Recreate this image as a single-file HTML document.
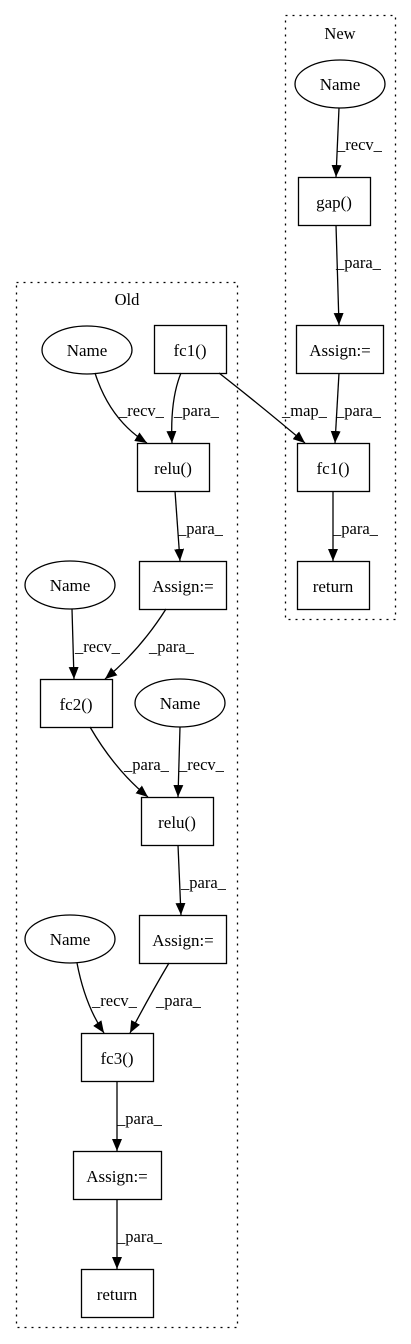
<!DOCTYPE html>
<html><head><meta charset="utf-8"><style>html,body{margin:0;padding:0;background:#fff}svg{display:block}</style></head>
<body>
<svg width="411" height="1344" viewBox="0 0 411 1344" xmlns="http://www.w3.org/2000/svg" font-family="Liberation Serif, serif" font-size="16">
<defs>
<marker id="a" markerWidth="12" markerHeight="10" refX="12" refY="5" orient="auto" markerUnits="userSpaceOnUse">
<path d="M0,0 L12,5 L0,10 Z" fill="#000"/>
</marker>
</defs>
<g fill="none" stroke="#000" stroke-width="1.3" stroke-dasharray="2,5">
<rect x="285.5" y="15.5" width="110" height="604"/>
<rect x="16.5" y="282.5" width="221" height="1045"/>
</g>
<g text-anchor="middle" font-size="16.5">
<text x="340" y="39">New</text>
<text x="127" y="305">Old</text>
</g>
<g fill="#fff" stroke="#000" stroke-width="1.3">
<ellipse cx="340" cy="84" rx="45" ry="24"/>
<rect x="298.5" y="177.5" width="72" height="48"/>
<rect x="296.5" y="325.5" width="87" height="48"/>
<rect x="297.5" y="443.5" width="72" height="48"/>
<rect x="297.5" y="561.5" width="72" height="48"/>
<ellipse cx="87" cy="350" rx="45" ry="24"/>
<rect x="154.5" y="325.5" width="72" height="48"/>
<rect x="137.5" y="443.5" width="72" height="48"/>
<rect x="139.5" y="561.5" width="87" height="48"/>
<ellipse cx="70" cy="585" rx="45" ry="24"/>
<rect x="40.5" y="679.5" width="72" height="48"/>
<ellipse cx="180" cy="703" rx="45" ry="24"/>
<rect x="141.5" y="797.5" width="72" height="48"/>
<rect x="139.5" y="915.5" width="87" height="48"/>
<ellipse cx="70" cy="939" rx="45" ry="24"/>
<rect x="81.5" y="1033.5" width="72" height="48"/>
<rect x="73.5" y="1151.5" width="88" height="48"/>
<rect x="81.5" y="1269.5" width="72" height="48"/>
</g>
<g text-anchor="middle" font-size="17">
<text x="340" y="90">Name</text>
<text x="334" y="208">gap()</text>
<text x="340" y="356">Assign:=</text>
<text x="333" y="474">fc1()</text>
<text x="333" y="592">return</text>
<text x="87" y="356">Name</text>
<text x="190" y="356">fc1()</text>
<text x="173" y="474">relu()</text>
<text x="183" y="592">Assign:=</text>
<text x="70" y="591">Name</text>
<text x="76" y="710">fc2()</text>
<text x="180" y="709">Name</text>
<text x="177" y="828">relu()</text>
<text x="183" y="946">Assign:=</text>
<text x="70" y="945">Name</text>
<text x="117" y="1064">fc3()</text>
<text x="117" y="1182">Assign:=</text>
<text x="117" y="1300">return</text>
</g>
<g fill="none" stroke="#000" stroke-width="1.3" marker-end="url(#a)">
<path d="M339,108 L336,177"/>
<path d="M336,225 L339,325"/>
<path d="M339,373 L335,443"/>
<path d="M219,373 Q260,405 305,443"/>
<path d="M333,491 L333,561"/>
<path d="M95,373 Q110,420 147,443"/>
<path d="M181,373 Q170,400 172,443"/>
<path d="M175,491 L180,561"/>
<path d="M72,609 L74,679"/>
<path d="M166,609 Q140,650 105,679"/>
<path d="M90,727 Q115,770 148,797"/>
<path d="M180,727 L178,797"/>
<path d="M178,845 L181,915"/>
<path d="M77,963 Q85,1005 104,1033"/>
<path d="M169,963 Q150,995 130,1033"/>
<path d="M117,1081 L117,1151"/>
<path d="M117,1199 L117,1269"/>
</g>
<g font-size="16.5">
<text x="337" y="150">_recv_</text>
<text x="336" y="268">_para_</text>
<text x="336" y="416">_para_</text>
<text x="282" y="416">_map_</text>
<text x="333" y="534">_para_</text>
<text x="119" y="416">_recv_</text>
<text x="174" y="416">_para_</text>
<text x="178" y="534">_para_</text>
<text x="75" y="652">_recv_</text>
<text x="149" y="652">_para_</text>
<text x="124" y="770">_para_</text>
<text x="179" y="770">_recv_</text>
<text x="181" y="888">_para_</text>
<text x="92" y="1006">_recv_</text>
<text x="156" y="1006">_para_</text>
<text x="117" y="1124">_para_</text>
<text x="117" y="1242">_para_</text>
</g>
</svg>
</body></html>
